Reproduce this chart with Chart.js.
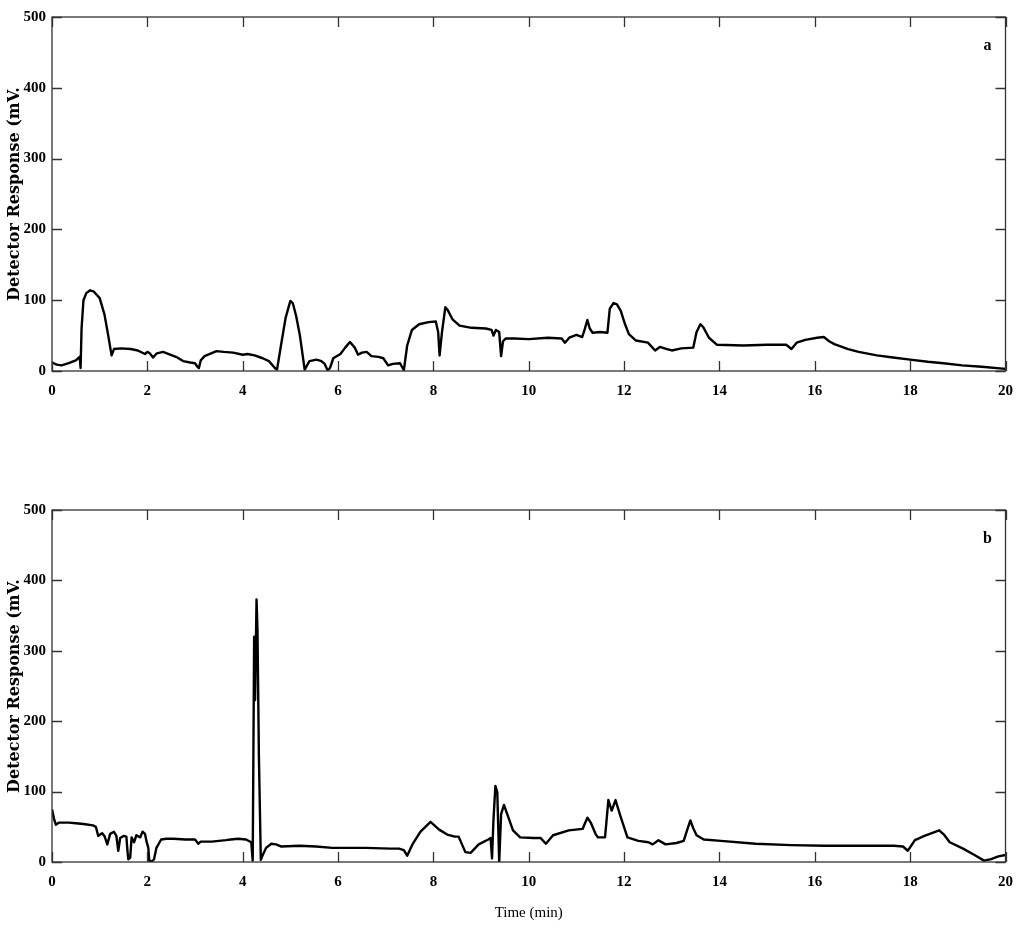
<!DOCTYPE html>
<html>
<head>
<meta charset="utf-8">
<title>Detector response</title>
<script src="https://cdn.jsdelivr.net/npm/chart.js@4.4.0/dist/chart.umd.min.js"></script>
<style>
  body { margin: 0; background: #fff; }
  .panel { position: absolute; left: 0; }
</style>
</head>
<body>
<canvas id="chartA" class="panel" width="1024" height="420" style="top:0px"></canvas>
<canvas id="chartB" class="panel" width="1024" height="454" style="top:480px"></canvas>
<script>
// tick values shared by both panels
const xTicks = [0, 2, 4, 6, 8, 10, 12, 14, 16, 18, 20];
const yTicks = [0, 100, 200, 300, 400, 500];

// panel a
const timeA = [0.00, 0.10, 0.20, 0.35, 0.50, 0.58, 0.60, 0.62, 0.66, 0.72, 0.80, 0.88, 1.00, 1.10, 1.18, 1.25, 1.30, 1.45, 1.65, 1.80,
  1.95, 2.00, 2.05, 2.12, 2.20, 2.33, 2.45, 2.60, 2.75, 2.90, 3.00, 3.05, 3.08, 3.12, 3.20, 3.45, 3.60, 3.80, 4.00, 4.10,
  4.25, 4.42, 4.55, 4.68, 4.72, 4.80, 4.90, 5.00, 5.05, 5.12, 5.20, 5.30, 5.40, 5.55, 5.65, 5.72, 5.78, 5.83, 5.90, 6.05,
  6.15, 6.25, 6.35, 6.42, 6.50, 6.60, 6.70, 6.85, 6.95, 7.05, 7.15, 7.30, 7.38, 7.45, 7.55, 7.70, 7.90, 8.05, 8.10, 8.13,
  8.18, 8.25, 8.30, 8.40, 8.55, 8.80, 9.10, 9.22, 9.26, 9.31, 9.38, 9.42, 9.46, 9.52, 9.70, 10.00, 10.40, 10.69, 10.76, 10.85,
  11.00, 11.12, 11.17, 11.23, 11.28, 11.34, 11.50, 11.65, 11.70, 11.78, 11.85, 11.93, 12.02, 12.10, 12.25, 12.50, 12.65, 12.75, 12.90, 13.00,
  13.20, 13.45, 13.52, 13.60, 13.66, 13.78, 13.95, 14.50, 15.00, 15.40, 15.51, 15.62, 15.80, 16.05, 16.19, 16.30, 16.41, 16.70, 16.92, 17.30,
  17.64, 18.00, 18.37, 18.70, 19.09, 19.50, 20.00];
const signalA = [12, 9, 8, 11, 15, 20, 4, 60, 100, 110, 114, 112, 103, 80, 50, 22, 31, 32, 31, 29,
  24, 27, 25, 19, 25, 27, 24, 20, 14, 12, 11, 6, 4, 15, 21, 28, 27, 26, 23, 24,
  22, 18, 14, 4, 2, 35, 75, 99, 96, 78, 50, 2, 14, 16, 14, 10, 1, 4, 18, 24,
  33, 41, 33, 23, 26, 27, 21, 20, 18, 8, 10, 11, 1, 36, 58, 66, 69, 70, 55, 22,
  55, 90, 86, 73, 64, 61, 60, 58, 50, 58, 55, 21, 42, 46, 46, 45, 47, 46, 40, 47,
  51, 48, 58, 72, 60, 54, 55, 54, 88, 96, 94, 85, 66, 52, 43, 40, 29, 34, 31, 29,
  32, 33, 55, 66, 62, 47, 37, 36, 37, 37, 31, 40, 44, 47, 48, 42, 38, 31, 27, 22,
  19, 16, 13, 11, 8, 6, 3];

// panel b
const timeB = [0.00, 0.04, 0.08, 0.15, 0.35, 0.50, 0.66, 0.86, 0.92, 0.97, 1.05, 1.10, 1.16, 1.22, 1.30, 1.35, 1.39, 1.43, 1.50, 1.56,
  1.58, 1.60, 1.64, 1.67, 1.72, 1.77, 1.85, 1.90, 1.95, 1.98, 2.02, 2.04, 2.10, 2.14, 2.19, 2.29, 2.40, 2.55, 2.80, 3.00,
  3.07, 3.12, 3.35, 3.65, 3.75, 3.90, 4.07, 4.18, 4.21, 4.24, 4.26, 4.29, 4.31, 4.34, 4.38, 4.42, 4.49, 4.60, 4.70, 4.81,
  5.19, 5.54, 5.88, 6.58, 7.10, 7.28, 7.38, 7.45, 7.56, 7.73, 7.94, 8.12, 8.29, 8.45, 8.53, 8.60, 8.67, 8.78, 8.95, 9.15,
  9.20, 9.23, 9.26, 9.30, 9.34, 9.38, 9.42, 9.48, 9.56, 9.67, 9.82, 10.10, 10.25, 10.36, 10.51, 10.84, 11.13, 11.18, 11.23, 11.30,
  11.40, 11.45, 11.60, 11.67, 11.74, 11.82, 11.92, 12.07, 12.30, 12.51, 12.60, 12.72, 12.87, 13.10, 13.25, 13.32, 13.39, 13.45, 13.52, 13.67,
  14.03, 14.76, 15.50, 16.21, 17.00, 17.66, 17.85, 17.95, 18.10, 18.30, 18.61, 18.72, 18.83, 19.11, 19.35, 19.55, 19.70, 19.85, 20.00];
const signalB = [75, 62, 53, 56, 56, 55, 54, 52, 50, 37, 41, 37, 25, 40, 43, 37, 16, 34, 37, 36,
  18, 4, 6, 35, 28, 38, 35, 43, 40, 30, 20, 2, 1, 4, 20, 32, 33, 33, 32, 32,
  26, 29, 29, 31, 32, 33, 32, 28, 2, 320, 230, 373, 330, 150, 3, 10, 20, 26, 25, 22,
  23, 22, 20, 20, 19, 19, 17, 9, 25, 43, 57, 46, 39, 36, 36, 25, 14, 13, 25, 32,
  34, 5, 60, 108, 99, 0, 68, 81, 66, 45, 35, 34, 34, 26, 38, 45, 47, 55, 63, 56,
  40, 35, 35, 88, 73, 88, 66, 35, 30, 28, 25, 31, 25, 27, 30, 45, 59, 48, 38, 32,
  30, 26, 24, 23, 23, 23, 22, 16, 31, 37, 45, 38, 28, 19, 10, 2, 4, 8, 10];

Chart.defaults.font.family = '"Liberation Serif", "Times New Roman", serif';
Chart.defaults.color = '#000';

// box around the plot with inward tick marks on all four sides, plus the panel letter
const frameTicks = {
  id: 'frameTicks',
  afterDraw(chart, args, opts) {
    const { ctx, chartArea: a } = chart;
    const x = chart.scales.x, y = chart.scales.y;
    ctx.save();
    ctx.strokeStyle = '#333';
    ctx.lineWidth = 1.3;
    ctx.strokeRect(a.left, a.top, a.right - a.left, a.bottom - a.top);
    ctx.beginPath();
    x.ticks.forEach(t => {
      const px = Math.round(x.getPixelForValue(t.value)) + 0.5;
      ctx.moveTo(px, a.bottom); ctx.lineTo(px, a.bottom - 10);
      ctx.moveTo(px, a.top); ctx.lineTo(px, a.top + 10);
    });
    y.ticks.forEach(t => {
      const py = Math.round(y.getPixelForValue(t.value)) + 0.5;
      ctx.moveTo(a.left, py); ctx.lineTo(a.left + 10, py);
      ctx.moveTo(a.right, py); ctx.lineTo(a.right - 10, py);
    });
    ctx.stroke();
    ctx.fillStyle = '#000';
    ctx.font = 'bold 16px "Liberation Serif", serif';
    ctx.textAlign = 'center';
    ctx.textBaseline = 'middle';
    ctx.fillText(opts.letter, a.right - 18, a.top + 29);
    ctx.restore();
  }
};

function makeChart(id, times, values, letter, topPad, xHeight, xTitle) {
  const points = times.map((t, i) => ({ x: t, y: values[i] }));
  return new Chart(document.getElementById(id), {
    type: 'line',
    data: {
      datasets: [{
        data: points,
        borderColor: '#000',
        borderWidth: 2.4,
        borderJoinStyle: 'round',
        pointRadius: 0,
        tension: 0,
        fill: false
      }]
    },
    options: {
      responsive: false,
      animation: false,
      layout: { padding: { top: topPad, right: 16, left: 0, bottom: 0 } },
      plugins: {
        legend: { display: false },
        tooltip: { enabled: false },
        frameTicks: { letter: letter }
      },
      scales: {
        x: {
          type: 'linear',
          min: 0,
          max: 20,
          grid: { display: false, drawTicks: false },
          border: { display: false },
          afterBuildTicks: s => { s.ticks = xTicks.map(v => ({ value: v })); },
          afterFit: s => { s.height = xHeight; },
          ticks: { padding: 11, font: { size: 15, weight: 'bold' } },
          title: {
            display: !!xTitle,
            text: xTitle || '',
            font: { size: 15 },
            padding: { top: 0, bottom: 12 }
          }
        },
        y: {
          min: 0,
          max: 500,
          grid: { display: false, drawTicks: false },
          border: { display: false },
          afterBuildTicks: s => { s.ticks = yTicks.map(v => ({ value: v })); },
          afterFit: s => { s.width = 52; },
          ticks: { padding: 6, font: { size: 15, weight: 'bold' } },
          title: {
            display: true,
            text: 'Detector Response (mV.',
            font: { family: '"DejaVu Serif", serif', size: 16, weight: 'bold' },
            padding: { top: 5, bottom: 0 }
          }
        }
      }
    },
    plugins: [frameTicks]
  });
}

makeChart('chartA', timeA, signalA, 'a', 17, 49, null);
makeChart('chartB', timeB, signalB, 'b', 30, 72, 'Time (min)');
</script>
</body>
</html>
